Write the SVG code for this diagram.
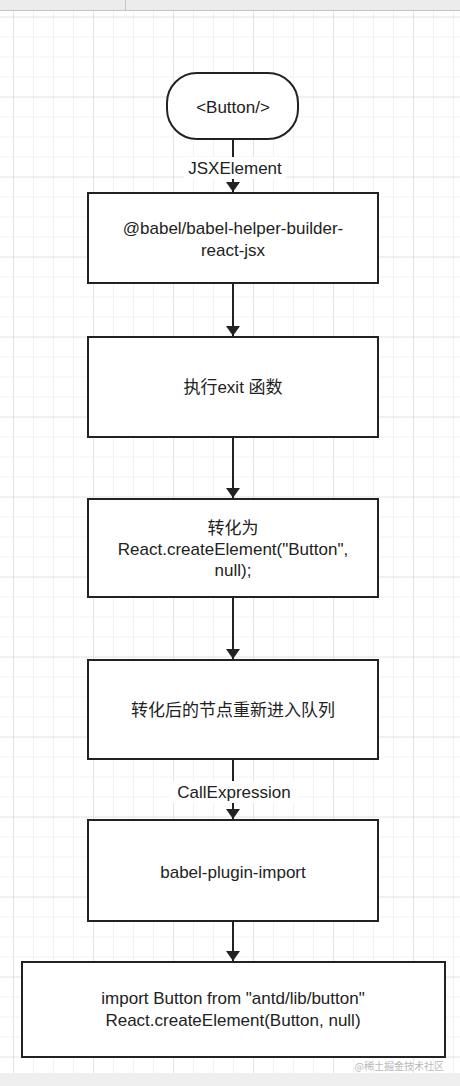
<svg xmlns="http://www.w3.org/2000/svg" width="460" height="1086" viewBox="0 0 460 1086">
<defs>
<pattern id="minor" x="13" y="16.5" width="20" height="20" patternUnits="userSpaceOnUse">
<path d="M0 0V20M0 0H20" fill="none" stroke="#e6e6e6" stroke-width="1"/>
</pattern>
<pattern id="major" x="13" y="16.5" width="80" height="80" patternUnits="userSpaceOnUse">
<path d="M0 0V80M0 0H80" fill="none" stroke="#dadada" stroke-width="1.2"/>
</pattern>
<marker id="arr" viewBox="0 0 10 14" refX="10" refY="7" markerWidth="10" markerHeight="14" markerUnits="userSpaceOnUse" orient="auto">
<path d="M0 0L10 7L0 14Z" fill="#222"/>
</marker>
</defs>
<style>
.box{fill:#fff;stroke:#222;stroke-width:2}
.t{font-family:"Liberation Sans","Noto Sans CJK SC",sans-serif;font-size:17px;fill:#222;text-anchor:middle}
.c{stroke:#222;stroke-width:2;fill:none}
.lbl{fill:#fff}
</style>
<rect x="0" y="0" width="460" height="1086" fill="#fff"/>
<rect x="0" y="10" width="460" height="1063" fill="url(#minor)"/>
<rect x="0" y="10" width="460" height="1063" fill="url(#major)"/>
<rect x="0" y="0" width="460" height="10" fill="#ececec"/>
<line x1="0" y1="10.5" x2="460" y2="10.5" stroke="#c4c4c4" stroke-width="1"/>
<line x1="125.5" y1="0" x2="125.5" y2="10" stroke="#c4c4c4" stroke-width="1"/>
<rect x="0" y="1073" width="460" height="13" fill="#efefef"/>

<g id="connectors">
<path class="c" d="M233 139V192" marker-end="url(#arr)"/>
<rect class="lbl" x="184" y="157" width="102" height="22"/>
<text class="t" x="235" y="174">JSXElement</text>
<path class="c" d="M233 283V336" marker-end="url(#arr)"/>
<path class="c" d="M233 437V498" marker-end="url(#arr)"/>
<path class="c" d="M233 597V659" marker-end="url(#arr)"/>
<path class="c" d="M233 759V819" marker-end="url(#arr)"/>
<rect class="lbl" x="170" y="781" width="128" height="22"/>
<text class="t" x="234" y="798">CallExpression</text>
<path class="c" d="M233 921V961" marker-end="url(#arr)"/>
</g>

<g id="start">
<rect class="box" x="167" y="73" width="131" height="66" rx="30" ry="30"/>
<text class="t" x="233" y="113">&lt;Button/&gt;</text>
</g>
<g id="helper">
<rect class="box" x="88" y="193" width="290" height="90"/>
<text class="t" x="233" y="234">@babel/babel-helper-builder-</text>
<text class="t" x="233" y="256">react-jsx</text>
</g>
<g id="exit">
<rect class="box" x="88" y="337" width="290" height="100"/>
<text class="t" x="233" y="393">执行exit 函数</text>
</g>
<g id="convert">
<rect class="box" x="88" y="499" width="290" height="98"/>
<text class="t" x="233" y="534">转化为</text>
<text class="t" x="233" y="555">React.createElement("Button",</text>
<text class="t" x="233" y="576">null);</text>
</g>
<g id="requeue">
<rect class="box" x="88" y="660" width="290" height="99"/>
<text class="t" x="233" y="716">转化后的节点重新进入队列</text>
</g>
<g id="plugin">
<rect class="box" x="88" y="820" width="290" height="101"/>
<text class="t" x="233" y="878">babel-plugin-import</text>
</g>
<g id="result">
<rect class="box" x="22" y="962" width="423" height="95"/>
<text class="t" x="233" y="1004">import Button from "antd/lib/button"</text>
<text class="t" x="233" y="1026">React.createElement(Button, null)</text>
</g>
<text x="444" y="1070" font-family="'Noto Sans CJK SC',sans-serif" font-size="10" fill="#b8b8b8" text-anchor="end">@稀土掘金技术社区</text>
</svg>
